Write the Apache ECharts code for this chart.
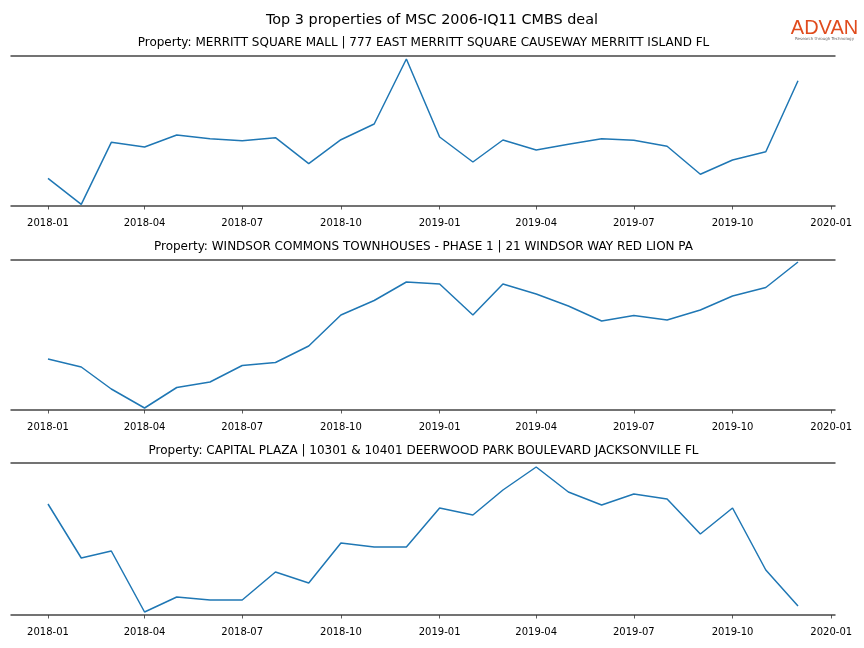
<!DOCTYPE html>
<html>
<head>
<meta charset="utf-8">
<script src="https://cdn.jsdelivr.net/npm/echarts@6/dist/echarts.min.js"></script>
<style>html,body{margin:0;padding:0;background:#fff}#c{width:864px;height:648px}</style>
</head>
<body>
<div id="c"></div>
<script>
// ---- data ----
const months = ['2018-01','2018-02','2018-03','2018-04','2018-05','2018-06','2018-07','2018-08','2018-09','2018-10','2018-11','2018-12',
                '2019-01','2019-02','2019-03','2019-04','2019-05','2019-06','2019-07','2019-08','2019-09','2019-10','2019-11','2019-12'];
const tickLabels = ['2018-01','2018-04','2018-07','2018-10','2019-01','2019-04','2019-07','2019-10','2020-01'];
const mainTitle = 'Top 3 properties of MSC 2006-IQ11 CMBS deal';
const propertyTitles = [
  'Property: MERRITT SQUARE MALL | 777 EAST MERRITT SQUARE CAUSEWAY MERRITT ISLAND FL',
  'Property: WINDSOR COMMONS TOWNHOUSES - PHASE 1 | 21 WINDSOR WAY RED LION PA',
  'Property: CAPITAL PLAZA | 10301 & 10401 DEERWOOD PARK BOULEVARD JACKSONVILLE FL'
];
const merrittSquare = [27.7, 1.7, 63.7, 59, 71, 67.3, 65.3, 68.3, 42.3, 66.3, 82, 147, 69, 44, 66, 56, 61.7, 67.3, 65.7, 59.7, 31.7, 46, 54.3, 125.3];
const windsorCommons = [51, 43, 21, 2, 22.5, 28, 44.5, 47.5, 64, 95, 109.5, 128, 126, 95, 126, 116, 104, 89, 94.5, 90, 100, 114, 122.5, 148];
const capitalPlaza = [111, 57, 64, 3, 18, 15, 15, 43, 32, 72, 68, 68, 107, 100, 125, 148, 123, 110, 121, 116, 81, 107, 45, 9];
const seriesList = [merrittSquare, windsorCommons, capitalPlaza];
const yRanges = [[0, 150], [0, 150], [0, 152]];

// ---- layout ----
const gridTops = [56, 260, 463];
const gridHeights = [150, 150, 152];
const subtitleY = [43, 247, 451];

function toTime(s) { const p = s.split('-'); return Date.UTC(+p[0], +p[1] - 1, 1); }
function fmt(v) { const d = new Date(v); return d.getUTCFullYear() + '-' + String(d.getUTCMonth() + 1).padStart(2, '0'); }

const t0 = toTime(months[0]), t1 = toTime(months[months.length - 1]);
const margin = (t1 - t0) * 0.05;
const xMin = t0 - margin, xMax = t1 + margin;
const tickTimes = tickLabels.map(toTime);

const FONT = 'DejaVu Sans';
const grids = [], xAxes = [], yAxes = [], series = [], graphics = [];
for (let i = 0; i < 3; i++) {
  grids.push({ left: 10.5, right: 28.5, top: gridTops[i], height: gridHeights[i], containLabel: false });
  xAxes.push({
    type: 'value', gridIndex: i, min: xMin, max: xMax, offset: 6, scale: true,
    axisLine: { show: false },
    axisTick: { show: true, length: 3.5, lineStyle: { color: '#333', width: 0.8 }, customValues: tickTimes },
    axisLabel: { show: true, customValues: tickTimes, formatter: fmt, color: '#000', fontFamily: FONT, fontSize: 10, margin: 6, hideOverlap: false, showMinLabel: true, showMaxLabel: true },
    splitLine: { show: false }
  });
  yAxes.push({
    type: 'value', gridIndex: i, min: yRanges[i][0], max: yRanges[i][1], interval: yRanges[i][1] - yRanges[i][0],
    axisLine: { show: false }, axisTick: { show: false }, axisLabel: { show: false },
    splitLine: { show: true, lineStyle: { color: '#444', width: 1.6 } }
  });
  series.push({
    type: 'line', xAxisIndex: i, yAxisIndex: i, symbol: 'none', smooth: false,
    lineStyle: { color: '#1f77b4', width: 1.5 },
    data: months.map((m, k) => [toTime(m), seriesList[i][k]])
  });
  graphics.push({
    type: 'text', x: 423.5, y: subtitleY[i],
    style: { text: propertyTitles[i], fill: '#000', font: '12px "DejaVu Sans"', textAlign: 'center', textVerticalAlign: 'middle' }
  });
}
graphics.push({ type: 'text', x: 432, y: 20, style: { text: mainTitle, fill: '#000', font: '14.4px "DejaVu Sans"', textAlign: 'center', textVerticalAlign: 'middle' } });
graphics.push({ type: 'text', x: 824.5, y: 28, style: { text: 'ADVAN', fill: '#e04b1d', font: '20px "Liberation Sans"', textAlign: 'center', textVerticalAlign: 'middle' } });
graphics.push({ type: 'text', x: 824.5, y: 38.5, style: { text: 'Research through Technology', fill: '#666', font: '4px "DejaVu Sans"', textAlign: 'center', textVerticalAlign: 'middle' } });

const chart = echarts.init(document.getElementById('c'), null, { renderer: 'canvas' });
chart.setOption({
  animation: false,
  backgroundColor: '#fff',
  grid: grids, xAxis: xAxes, yAxis: yAxes, series: series, graphic: graphics
});
</script>
</body>
</html>
